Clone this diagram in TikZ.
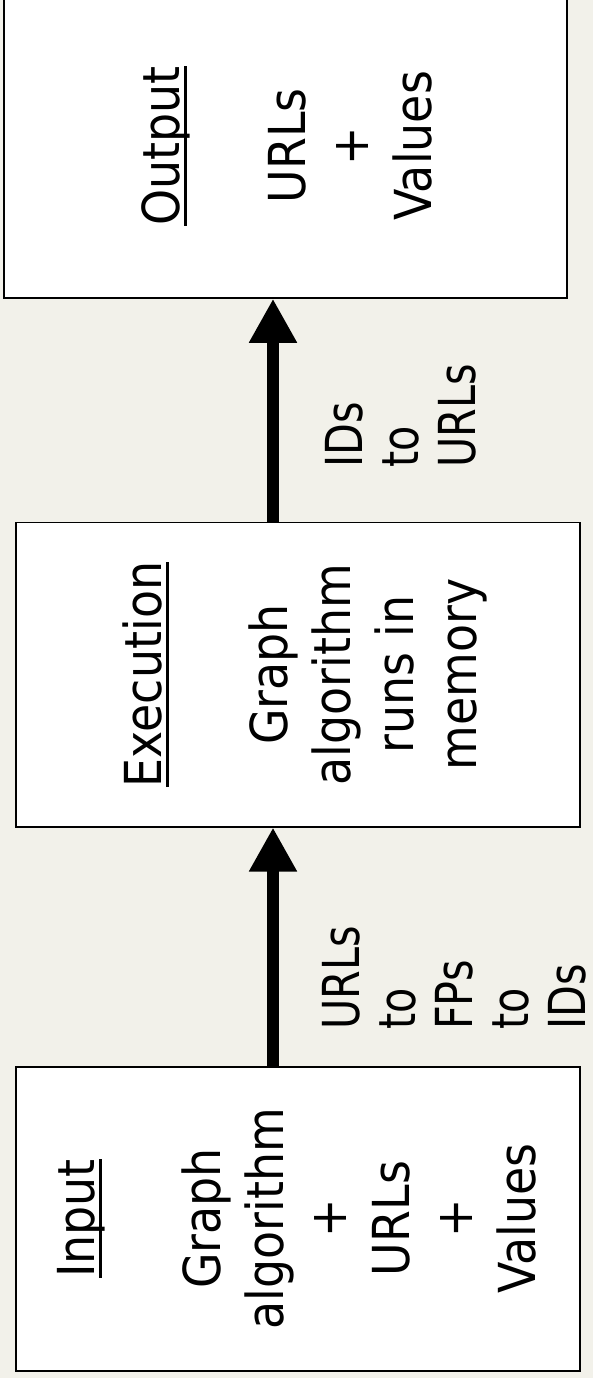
\documentclass[tikz,border=0pt]{standalone}
\usepackage{fontspec}
\usetikzlibrary{arrows.meta}

% Faces for the stage texts and for the arrow labels
\newfontfamily\boxface[FakeStretch=0.9]{DejaVu Sans}
\newfontfamily\labelface[FakeStretch=0.81]{DejaVu Sans}

\definecolor{paper}{RGB}{242,241,234}

% Underlined stage title with a heavier rule than \underline
\newsavebox\titlebox
\newcommand\titleline[1]{\sbox\titlebox{#1}\rlap{\rule[-7.5pt]{\wd\titlebox}{3pt}}\usebox\titlebox}

\tikzset{
  stage/.style={draw=black, line width=1.5pt, fill=white, inner sep=0pt},
  boxtext/.style={rotate=90, align=center, inner sep=0pt,
    font=\boxface\fontsize{51}{63}\selectfont},
  flowlabel/.style={rotate=90, align=left, inner sep=0pt, anchor=north west,
    font=\labelface\fontsize{51}{56.5}\selectfont},
  flow/.style={line width=12pt, -{Triangle[width=45pt,length=44pt]}}
}

\begin{document}
\begin{tikzpicture}[x=1pt,y=-1pt]
  \fill[paper] (0,0) rectangle (593,1378);
  \useasboundingbox (0,0) rectangle (593,1378);

  % the three stages
  \node[stage, minimum width=563pt, minimum height=304pt] (out) at (285.5,146) {};
  \node[stage, minimum width=564pt, minimum height=304.5pt] (exec) at (298,674.5) {};
  \node[stage, minimum width=564pt, minimum height=304pt] (in) at (298,1219) {};

  \node[boxtext] (outtext) at (286.5,146)
    {\titleline{Output}\\\mbox{}\\URLs\\+\\Values};
  \node[boxtext] (exectext) at (305,674.5)
    {\titleline{Execution}\\\mbox{}\\Graph\\algorithm\\runs in\\memory};
  \node[boxtext] (intext) at (297,1218.5)
    {\titleline{Input}\\\mbox{}\\Graph\\algorithm\\+\\URLs\\+\\Values};

  % arrows between the stages
  \coordinate (ax) at (273,0);
  \draw[flow] (exec.north -| ax) -- (out.south -| ax);
  \draw[flow] (in.north -| ax) -- (exec.south -| ax);

  % arrow labels
  \node[flowlabel] (lab1) at (324.8,468) {IDs\\to\\URLs};
  \node[flowlabel] (lab2) at (322,1030) {URLs\\to\\FPs\\to\\IDs};
\end{tikzpicture}
\end{document}
